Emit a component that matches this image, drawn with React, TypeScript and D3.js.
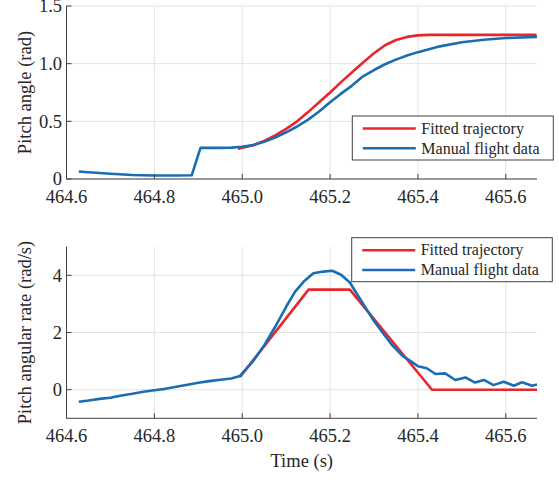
import React, { useEffect, useRef } from 'react';
import * as d3 from 'd3';

// time axis and ticks
const xDomain = [464.6, 465.671];
const xTicks = [464.6, 464.8, 465.0, 465.2, 465.4, 465.6];
const angleTicks = [0, 0.5, 1.0, 1.5];
const rateTicks = [0, 2, 4];
const seriesNames = ['Fitted trajectory', 'Manual flight data'];
const seriesColors = ['#e8262b', '#1b6db3'];

// pitch angle, fitted
const angleFitTime = [464.99, 465.0, 465.025, 465.05, 465.075, 465.1, 465.125, 465.15, 465.175, 465.2, 465.225, 465.25, 465.275, 465.3, 465.325, 465.35, 465.375, 465.4, 465.425, 465.67];
const angleFit = [0.262, 0.272, 0.292, 0.33, 0.378, 0.435, 0.5, 0.58, 0.665, 0.75, 0.84, 0.925, 1.01, 1.09, 1.16, 1.205, 1.232, 1.245, 1.25, 1.25];

// pitch angle, manual flight
const angleManTime = [464.628, 464.65, 464.7, 464.75, 464.8, 464.85, 464.885, 464.905, 464.95, 464.975, 465.0, 465.025, 465.05, 465.075, 465.1, 465.125, 465.15, 465.175, 465.2, 465.225, 465.25, 465.275, 465.3, 465.325, 465.35, 465.375, 465.4, 465.45, 465.5, 465.55, 465.6, 465.671];
const angleMan = [0.065, 0.058, 0.045, 0.035, 0.03, 0.03, 0.032, 0.27, 0.27, 0.272, 0.28, 0.295, 0.322, 0.36, 0.405, 0.455, 0.515, 0.585, 0.665, 0.74, 0.81, 0.89, 0.945, 0.995, 1.035, 1.07, 1.1, 1.15, 1.185, 1.208, 1.222, 1.232];

// pitch rate, fitted
const rateFitTime = [464.995, 465.151, 465.245, 465.432, 465.671];
const rateFit = [0.45, 3.5, 3.5, 0.0, 0.0];

// pitch rate, manual flight
const rateManTime = [464.628, 464.65, 464.675, 464.7, 464.725, 464.75, 464.775, 464.8, 464.825, 464.85, 464.875, 464.9, 464.925, 464.95, 464.975, 464.995, 465.025, 465.05, 465.075, 465.1, 465.12, 465.14, 465.162, 465.185, 465.205, 465.225, 465.245, 465.265, 465.284, 465.3, 465.315, 465.34, 465.365, 465.385, 465.4, 465.42, 465.44, 465.462, 465.485, 465.508, 465.53, 465.55, 465.572, 465.595, 465.618, 465.637, 465.66, 465.671];
const rateMan = [-0.42, -0.38, -0.32, -0.28, -0.2, -0.14, -0.07, -0.02, 0.03, 0.1, 0.17, 0.24, 0.3, 0.35, 0.39, 0.48, 1.0, 1.55, 2.2, 2.9, 3.42, 3.78, 4.07, 4.13, 4.16, 4.02, 3.75, 3.25, 2.79, 2.4, 2.09, 1.58, 1.18, 0.98, 0.82, 0.75, 0.55, 0.57, 0.34, 0.43, 0.25, 0.34, 0.16, 0.28, 0.14, 0.26, 0.14, 0.18];

const FONT = '"Liberation Serif", "Times New Roman", serif';
const TEXT = '#262626';

export default function App() {
  const ref = useRef(null);

  useEffect(() => {
    const svg = d3.select(ref.current);
    svg.selectAll('*').remove();

    const left = 66.5, right = 537;
    const x = d3.scaleLinear().domain(xDomain).range([left, right]);

    const panels = [
      {
        top: 6, bottom: 179, domain: [0, 1.5], ticks: angleTicks,
        fmt: (d) => (d === 0 ? '0' : d.toFixed(1)),
        label: 'Pitch angle (rad)',
        series: [[angleFitTime, angleFit], [angleManTime, angleMan]],
        legend: { x: 352.3, y: 116, w: 201, h: 44 },
      },
      {
        top: 246.7, bottom: 418.3, domain: [-1, 5], ticks: rateTicks,
        fmt: (d) => String(d),
        label: 'Pitch angular rate (rad/s)',
        series: [[rateFitTime, rateFit], [rateManTime, rateMan]],
        legend: { x: 351.7, y: 237.7, w: 200.6, h: 44 },
      },
    ];

    panels.forEach((p) => {
      const y = d3.scaleLinear().domain(p.domain).range([p.bottom, p.top]);
      const g = svg.append('g');

      // grid
      g.selectAll('.gx').data(xTicks).enter().append('line')
        .attr('x1', (d) => x(d)).attr('x2', (d) => x(d))
        .attr('y1', p.top).attr('y2', p.bottom)
        .attr('stroke', '#e3e3e3').attr('stroke-width', 1);
      g.selectAll('.gy').data(p.ticks).enter().append('line')
        .attr('x1', left).attr('x2', right)
        .attr('y1', (d) => y(d)).attr('y2', (d) => y(d))
        .attr('stroke', '#e3e3e3').attr('stroke-width', 1);

      // data lines
      p.series.forEach(([ts, vs], i) => {
        const pts = ts.map((t, k) => [t, vs[k]]);
        g.append('path')
          .attr('d', d3.line().x((d) => x(d[0])).y((d) => y(d[1]))(pts))
          .attr('fill', 'none')
          .attr('stroke', seriesColors[i])
          .attr('stroke-width', 2.6)
          .attr('stroke-linejoin', 'round');
      });

      // axes
      g.append('line').attr('x1', left).attr('x2', right)
        .attr('y1', p.bottom).attr('y2', p.bottom)
        .attr('stroke', '#404040').attr('stroke-width', 1);
      g.append('line').attr('x1', left).attr('x2', left)
        .attr('y1', p.top).attr('y2', p.bottom)
        .attr('stroke', '#404040').attr('stroke-width', 1);
      g.selectAll('.tx').data(xTicks).enter().append('line')
        .attr('x1', (d) => x(d)).attr('x2', (d) => x(d))
        .attr('y1', p.bottom).attr('y2', p.bottom - 5)
        .attr('stroke', '#404040');
      g.selectAll('.ty').data(p.ticks).enter().append('line')
        .attr('x1', left).attr('x2', left + 5)
        .attr('y1', (d) => y(d)).attr('y2', (d) => y(d))
        .attr('stroke', '#404040');

      g.selectAll('.lx').data(xTicks).enter().append('text')
        .attr('x', (d) => x(d)).attr('y', p.bottom + 24)
        .attr('text-anchor', 'middle')
        .attr('font-family', FONT).attr('font-size', 18.5).attr('fill', TEXT)
        .text((d) => d.toFixed(1));
      g.selectAll('.ly').data(p.ticks).enter().append('text')
        .attr('x', left - 4.5).attr('y', (d) => y(d))
        .attr('dy', '0.34em')
        .attr('text-anchor', 'end')
        .attr('font-family', FONT).attr('font-size', 18.5).attr('fill', TEXT)
        .text(p.fmt);

      g.append('text')
        .attr('transform', `translate(31,${(p.top + p.bottom) / 2}) rotate(-90)`)
        .attr('text-anchor', 'middle')
        .attr('font-family', FONT).attr('font-size', 18.5).attr('fill', TEXT)
        .text(p.label);

      // legend
      const L = p.legend;
      g.append('rect').attr('x', L.x).attr('y', L.y).attr('width', L.w).attr('height', L.h)
        .attr('fill', 'white').attr('stroke', '#404040').attr('stroke-width', 1);
      seriesNames.forEach((name, i) => {
        const ly = L.y + 12.5 + i * 19.8;
        g.append('line')
          .attr('x1', L.x + 10.5).attr('x2', L.x + 63.5)
          .attr('y1', ly).attr('y2', ly)
          .attr('stroke', seriesColors[i]).attr('stroke-width', 2.6);
        g.append('text')
          .attr('x', L.x + 69).attr('y', ly).attr('dy', '0.33em')
          .attr('font-family', FONT).attr('font-size', 16).attr('fill', TEXT)
          .text(name);
      });
    });

    svg.append('text')
      .attr('x', (left + right) / 2).attr('y', 467)
      .attr('text-anchor', 'middle')
      .attr('font-family', FONT).attr('font-size', 18.5).attr('fill', TEXT)
      .text('Time (s)');
  }, []);

  return (
    <svg
      ref={ref}
      width={559}
      height={480}
      style={{ position: 'absolute', left: 0, top: 0, background: 'white' }}
    />
  );
}
